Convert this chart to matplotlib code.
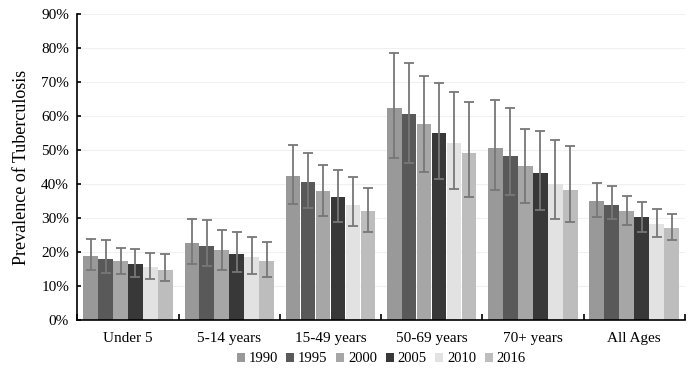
import numpy as np
import matplotlib.pyplot as plt
from matplotlib.ticker import PercentFormatter

plt.rcParams['font.family'] = ['Liberation Serif', 'DejaVu Serif']

groups = ['Under 5', '5-14 years', '15-49 years', '50-69 years', '70+ years', 'All Ages']
years = ['1990', '1995', '2000', '2005', '2010', '2016']
colors = ['#999999', '#595959', '#a6a6a6', '#383838', '#e2e2e2', '#bdbdbd']

# prevalence (%) per year, one value per age group
vals = {
    '1990': [18.8, 22.5, 42.4, 62.3, 50.5, 35.0],
    '1995': [18.0, 21.8, 40.5, 60.5, 48.3, 33.8],
    '2000': [17.4, 20.7, 37.9, 57.5, 45.4, 32.1],
    '2005': [16.6, 19.5, 36.1, 54.9, 43.1, 30.2],
    '2010': [15.6, 18.5, 33.8, 52.0, 40.1, 28.3],
    '2016': [14.8, 17.4, 32.1, 49.0, 38.3, 26.9],
}
upper = {
    '1990': [23.8, 29.6, 51.5, 78.4, 64.8, 40.4],
    '1995': [23.4, 29.3, 49.2, 75.5, 62.3, 39.3],
    '2000': [21.3, 26.5, 45.6, 71.8, 56.3, 36.4],
    '2005': [20.9, 26.0, 44.1, 69.6, 55.6, 34.8],
    '2010': [19.8, 24.5, 41.9, 67.1, 52.9, 32.6],
    '2016': [19.3, 23.0, 38.9, 64.0, 51.2, 31.2],
}
lower = {
    '1990': [14.7, 16.4, 34.1, 47.7, 38.1, 30.4],
    '1995': [13.9, 16.0, 33.0, 46.3, 36.7, 29.6],
    '2000': [13.4, 14.8, 30.7, 43.6, 34.5, 27.8],
    '2005': [12.7, 14.1, 28.9, 41.5, 32.3, 26.0],
    '2010': [12.0, 13.4, 27.5, 38.5, 29.6, 24.5],
    '2016': [11.6, 12.7, 26.0, 36.3, 28.9, 23.4],
}

fig = plt.figure(figsize=(6.91, 3.76), dpi=100)
ax = fig.add_axes([0.112, 0.149, 0.879, 0.814])

x = np.arange(len(groups))
w = 0.148
for i, y in enumerate(years):
    v = np.array(vals[y])
    err = [v - np.array(lower[y]), np.array(upper[y]) - v]
    ax.bar(x + (i - 2.5) * w, v, w * 0.97, color=colors[i], label=y,
           yerr=err, ecolor='#777777', capsize=3.5,
           error_kw=dict(elinewidth=1.3, capthick=1.3), zorder=2)

ax.set_xlim(-0.5, len(groups) - 0.5)
ax.set_ylim(0, 90)
ax.set_yticks(np.arange(0, 91, 10))
ax.yaxis.set_major_formatter(PercentFormatter(decimals=0))
ax.grid(axis='y', color='#f0f0f0', linewidth=0.8, zorder=0)
ax.set_xticks(x)
ax.set_xticklabels(groups)
ax.set_xticks(np.arange(-0.5, len(groups), 1), minor=True)
ax.tick_params(axis='x', which='major', length=0, labelsize=11, pad=9)
ax.tick_params(axis='x', which='minor', direction='in', length=4, width=1.2)
ax.tick_params(axis='y', direction='in', length=3, width=1.2, labelsize=11, pad=6)
for s in ['top', 'right']:
    ax.spines[s].set_visible(False)
ax.spines['left'].set_linewidth(1.2)
ax.spines['bottom'].set_linewidth(1.2)
ax.set_ylabel('Prevalence of Tuberculosis', fontsize=13, labelpad=8)

ax.legend(loc='center', bbox_to_anchor=(0.5, -0.127), ncol=6, frameon=False,
          fontsize=10.5, handlelength=0.55, handleheight=0.55, handletextpad=0.25,
          columnspacing=0.6, borderpad=0)

fig.savefig('out.png', dpi=100)
